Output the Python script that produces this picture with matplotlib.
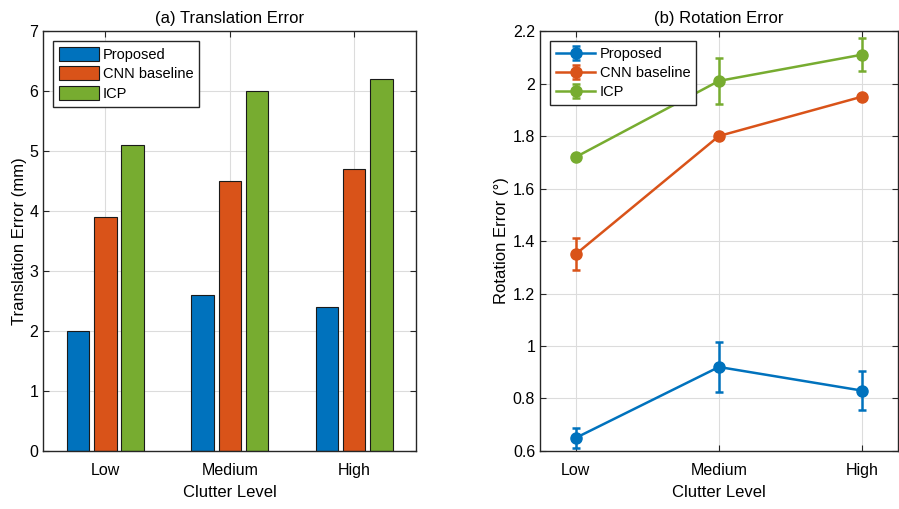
import numpy as np
import matplotlib.pyplot as plt

plt.rcParams['font.family'] = ['Liberation Sans', 'DejaVu Sans']

levels = ["Low", "Medium", "High"]
methods = ["Proposed", "CNN baseline", "ICP"]
colors = ["#0072BD", "#D95319", "#77AC30"]

# translation error (mm)
trans_err = {
    "Proposed": [2.0, 2.6, 2.4],
    "CNN baseline": [3.9, 4.5, 4.7],
    "ICP": [5.1, 6.0, 6.2],
}

# rotation error (deg) and its std
rot_err = {
    "Proposed": [0.65, 0.92, 0.83],
    "CNN baseline": [1.35, 1.80, 1.95],
    "ICP": [1.72, 2.01, 2.11],
}
rot_std = {
    "Proposed": [0.037, 0.095, 0.074],
    "CNN baseline": [0.06, 0.012, 0.012],
    "ICP": [0.012, 0.088, 0.062],
}

x = np.arange(1, 4)
fig = plt.figure(figsize=(8.99, 5.09), dpi=100)
ax1 = fig.add_axes([0.048, 0.114, 0.415, 0.825])
ax2 = fig.add_axes([0.6007, 0.114, 0.398, 0.825])

def style(ax):
    ax.grid(True, color="#dcdcdc", linewidth=0.8)
    ax.set_axisbelow(True)
    ax.tick_params(direction="in", top=True, right=True, labelsize=11.5,
                   color="#262626", length=4)
    ax.tick_params(axis="x", pad=9)
    for s in ax.spines.values():
        s.set_color("#262626")
        s.set_linewidth(1.0)

# (a) bars
w = 0.18
offs = [-0.22, 0.0, 0.22]
for m, c, o in zip(methods, colors, offs):
    ax1.bar(x + o, trans_err[m], width=w, color=c, edgecolor="#1a1a1a",
            linewidth=0.8, label=m)
ax1.set_xlim(0.5, 3.5)
ax1.set_ylim(0, 7)
ax1.set_xticks(x)
ax1.set_xticklabels(levels)
ax1.set_yticks(range(0, 8))
ax1.set_title("(a) Translation Error", fontsize=12, pad=6)
ax1.set_ylabel("Translation Error (mm)", fontsize=12, labelpad=2)
ax1.set_xlabel("Clutter Level", fontsize=12, labelpad=5)
style(ax1)
ax1.legend(loc="upper left", fontsize=10.5, fancybox=False,
           edgecolor="#262626", framealpha=1, handlelength=2.7,
           handleheight=1.1, borderaxespad=0.7, labelspacing=0.3,
           handletextpad=0.3, borderpad=0.4)

# (b) lines with error bars
for m, c in zip(methods, colors):
    ax2.errorbar(x, rot_err[m], yerr=rot_std[m], color=c, marker="o",
                 markersize=8, linewidth=1.8, capsize=3, capthick=1.8,
                 elinewidth=1.8, label=m)
ax2.set_xlim(0.75, 3.25)
ax2.set_ylim(0.6, 2.2)
ax2.set_xticks(x)
ax2.set_xticklabels(levels)
ax2.set_yticks(np.arange(0.6, 2.21, 0.2))
ax2.set_yticklabels(["0.6", "0.8", "1", "1.2", "1.4", "1.6", "1.8", "2", "2.2"])
ax2.set_title("(b) Rotation Error", fontsize=12, pad=6)
ax2.set_ylabel("Rotation Error (°)", fontsize=12, labelpad=3)
ax2.set_xlabel("Clutter Level", fontsize=12, labelpad=5)
style(ax2)
ax2.legend(loc="upper left", fontsize=10.5, fancybox=False,
           edgecolor="#262626", framealpha=1, handlelength=2.7,
           borderaxespad=0.7, labelspacing=0.35, handletextpad=0.3,
           borderpad=0.4)

fig.savefig("out.png", dpi=100)
